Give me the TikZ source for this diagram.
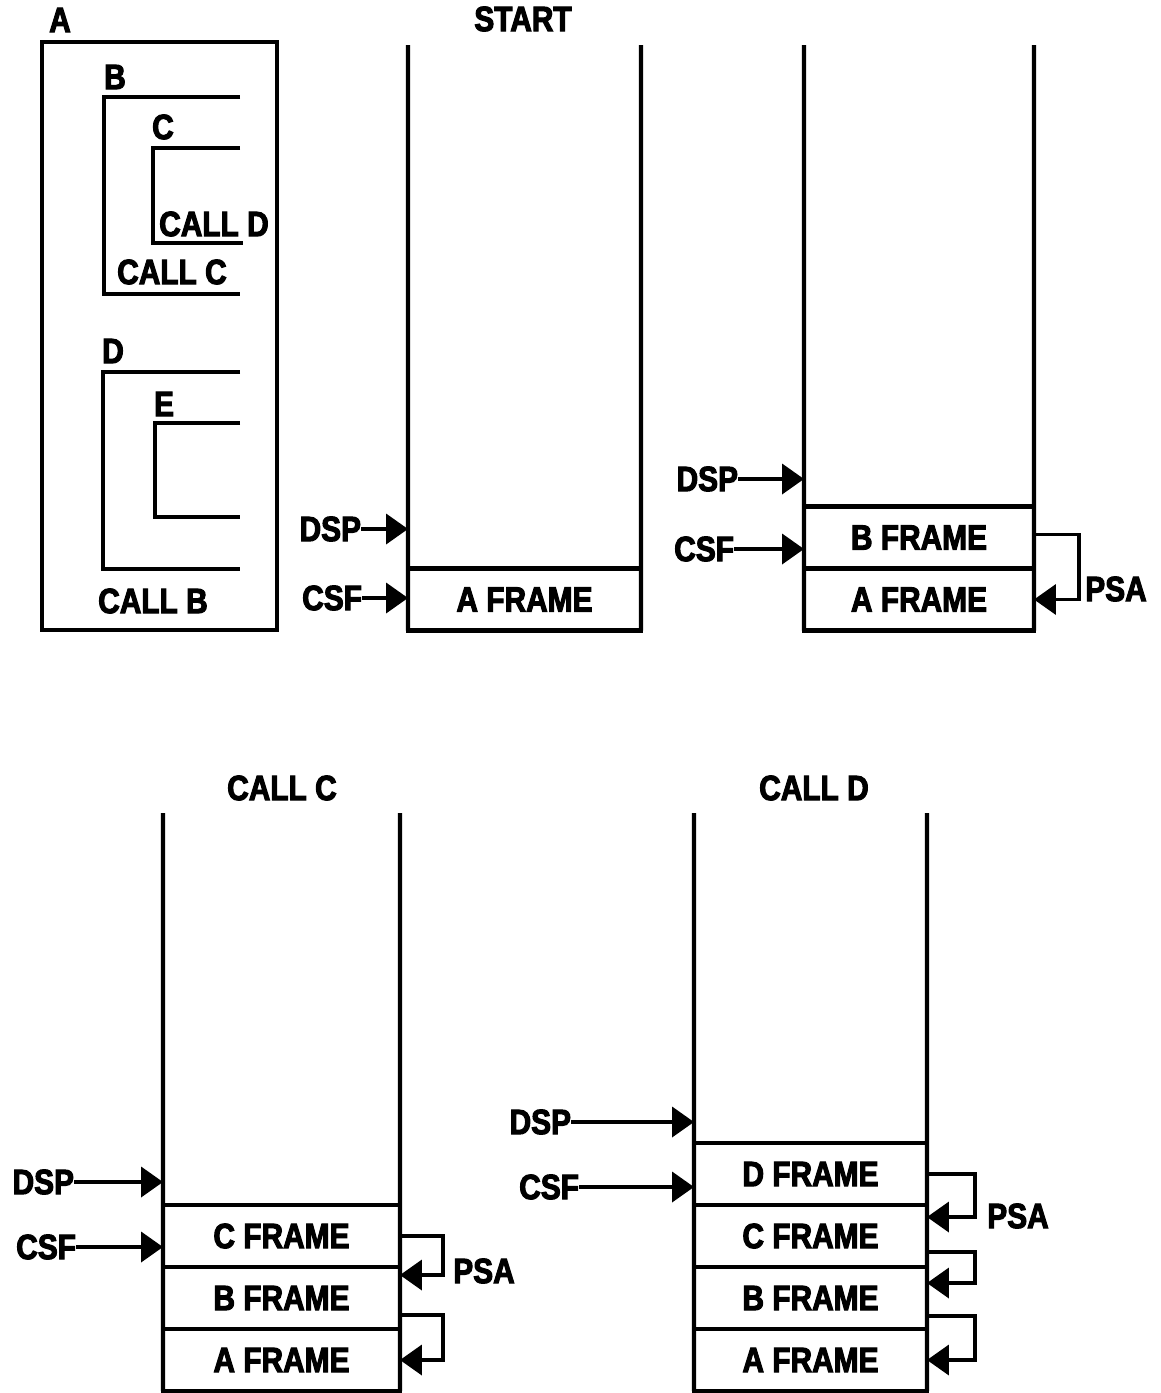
\documentclass[tikz,border=0pt]{standalone}
\usepackage{fontspec}
\setmainfont{Liberation Sans}[FakeStretch=0.85, FakeBold=3]
\usetikzlibrary{arrows.meta,calc}
\begin{document}
\begin{tikzpicture}[
x=0.02cm,
y=-0.02cm,
line width=2.4pt,
every node/.style={
inner sep=0pt,
outer sep=0pt,
font=\bfseries\fontsize{20}{24}\selectfont
},
frame/.style={
draw,
rectangle,
minimum height=1.24cm,
line width=2.4pt
},
arrow/.style={
-{Triangle[length=0.44cm,width=0.6cm]},
line width=2.2pt
}
]
\useasboundingbox (0,0) rectangle (1160,1393);

% program A with its nested procedures
\draw (42,42) rectangle (277,630);
\draw (240,97) -- (104,97) -- (104,294) -- (240,294);
\draw (240,148) -- (153,148) -- (153,243) -- (243,243);
\draw (240,372) -- (103,372) -- (103,569) -- (240,569);
\draw (240,423) -- (155,423) -- (155,517) -- (240,517);

\node (progA) at (60,20) {A};
\node (procB) at (115,77) {B};
\node (procC) at (163,127) {C};
\node (callD) at (214,224) {CALL D};
\node (callC) at (172,272) {CALL C};
\node (procD) at (113,351) {D};
\node (procE) at (164,404) {E};
\node (callB) at (153,601) {CALL B};

% START
\node (start) at (523,19) {START};
\node[frame, minimum width=4.66cm] (A1) at (524.5,599.5) {A FRAME};
\draw (408,45) -- (A1.south west);
\draw (641,45) -- (A1.south east);

\node[anchor=east] (dsp1) at (361,529) {DSP};
\node[anchor=east] (csf1) at (362,598) {CSF};
\draw[arrow] (dsp1.east) -- (A1.west |- dsp1);
\draw[arrow] (csf1.east) -- (A1.west |- csf1);

% CALL B
\node[frame, minimum width=4.6cm] (A2) at (919,599.5) {A FRAME};
\node[frame, minimum width=4.6cm, anchor=south] (B2) at (A2.north) {B FRAME};
\draw (804,45) -- (A2.south west);
\draw (1034,45) -- (A2.south east);

\node[anchor=east] (dsp2) at (738,479) {DSP};
\node[anchor=east] (csf2) at (734,549) {CSF};
\draw[arrow] (dsp2.east) -- (A2.west |- dsp2);
\draw[arrow] (csf2.east) -- (A2.west |- csf2);

\draw[arrow] ($(B2.east)+(0,-3)$) -- ++(45,0) |- (A2.east);
\node (psa2) at (1116,589) {PSA};

% CALL C
\node (callc) at (282,788) {CALL C};
\node[frame, minimum width=4.74cm] (A3) at (281.5,1360) {A FRAME};
\node[frame, minimum width=4.74cm, anchor=south] (B3) at (A3.north) {B FRAME};
\node[frame, minimum width=4.74cm, anchor=south] (C3) at (B3.north) {C FRAME};
\draw (163,813) -- (A3.south west);
\draw (400,813) -- (A3.south east);

\node[anchor=east] (dsp3) at (74,1182) {DSP};
\node[anchor=east] (csf3) at (76,1247) {CSF};
\draw[arrow] (dsp3.east) -- (C3.west |- dsp3);
\draw[arrow] (csf3.east) -- (C3.west |- csf3);

\draw[arrow] (C3.east) -- ++(43,0) |- ($(B3.east)+(0,-23)$);
\draw[arrow] ($(B3.east)+(0,17)$) -- ++(43,0) |- (A3.east);
\node (psa3) at (484,1271) {PSA};

% CALL D
\node (calld) at (814,788) {CALL D};
\node[frame, minimum width=4.66cm] (A4) at (810.5,1360) {A FRAME};
\node[frame, minimum width=4.66cm, anchor=south] (B4) at (A4.north) {B FRAME};
\node[frame, minimum width=4.66cm, anchor=south] (C4) at (B4.north) {C FRAME};
\node[frame, minimum width=4.66cm, anchor=south] (D4) at (C4.north) {D FRAME};
\draw (694,813) -- (A4.south west);
\draw (927,813) -- (A4.south east);

\node[anchor=east] (dsp4) at (571,1122) {DSP};
\node[anchor=east] (csf4) at (579,1187) {CSF};
\draw[arrow] (dsp4.east) -- (D4.west |- dsp4);
\draw[arrow] (csf4.east) -- (D4.west |- csf4);

\draw[arrow] (D4.east) -- ++(48,0) |- ($(C4.east)+(0,-19)$);
\draw[arrow] ($(C4.east)+(0,16)$) -- ++(48,0) |- ($(B4.east)+(0,-15)$);
\draw[arrow] ($(B4.east)+(0,18)$) -- ++(48,0) |- (A4.east);
\node (psa4) at (1018,1216) {PSA};

\end{tikzpicture}
\end{document}
